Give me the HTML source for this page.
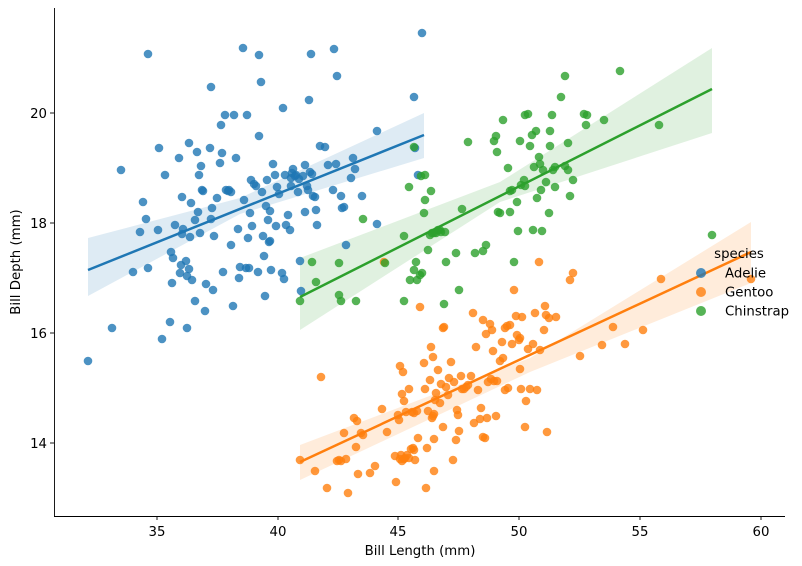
<!DOCTYPE html>
<html><head><meta charset="utf-8"><style>
html,body{margin:0;padding:0;background:#fff;width:802px;height:566px;overflow:hidden}
svg text{font-family:"DejaVu Sans","Liberation Sans",sans-serif;fill:#000}
</style></head><body>
<svg id="s" width="802" height="566" viewBox="0 0 802 566" xmlns="http://www.w3.org/2000/svg">
<polygon points="88,238 240,198 424,113 424,158 240,214 88,296" fill="#1f77b4" opacity="0.15"/>
<polygon points="300,258 500,182 712,48 712,133 500,202 300,330" fill="#2ca02c" opacity="0.15"/>
<polygon points="300,445 530,358 751,222 751,283 530,372 300,480" fill="#ff7f0e" opacity="0.15"/>
<g id="pts"></g>
<line x1="88" y1="270" x2="424" y2="135" stroke="#1f77b4" stroke-width="2.5"/>
<line x1="300" y1="297" x2="712" y2="89" stroke="#2ca02c" stroke-width="2.5"/>
<line x1="300" y1="462" x2="751" y2="252" stroke="#ff7f0e" stroke-width="2.5"/>
<line x1="54.5" y1="8" x2="54.5" y2="516.5" stroke="#000" stroke-width="0.9"/>
<line x1="54" y1="516.5" x2="785" y2="516.5" stroke="#000" stroke-width="0.9"/>
<g stroke="#000" stroke-width="0.9">
<line x1="157" y1="516" x2="157" y2="520"/><line x1="278" y1="516" x2="278" y2="520"/><line x1="398" y1="516" x2="398" y2="520"/><line x1="519" y1="516" x2="519" y2="520"/><line x1="640" y1="516" x2="640" y2="520"/><line x1="761" y1="516" x2="761" y2="520"/>
<line x1="50" y1="113" x2="54" y2="113"/><line x1="50" y1="223" x2="54" y2="223"/><line x1="50" y1="333" x2="54" y2="333"/><line x1="50" y1="443" x2="54" y2="443"/>
</g>
<g font-size="13.3" text-anchor="middle">
<text x="157" y="536">35</text><text x="278" y="536">40</text><text x="398" y="536">45</text><text x="519" y="536">50</text><text x="640" y="536">55</text><text x="761" y="536">60</text>
</g>
<g font-size="13.3" text-anchor="end">
<text x="47" y="118">20</text><text x="47" y="228">18</text><text x="47" y="338">16</text><text x="47" y="448">14</text>
</g>
<text x="420" y="555" font-size="13.3" text-anchor="middle">Bill Length (mm)</text>
<text transform="translate(20,262) rotate(-90)" font-size="13.3" text-anchor="middle">Bill Depth (mm)</text>
<text x="739" y="258" font-size="13.3" text-anchor="middle">species</text>
<circle cx="701" cy="273" r="5" fill="#1f77b4" opacity="0.8"/><text x="725" y="277.5" font-size="13.3">Adelie</text>
<circle cx="701" cy="292" r="5" fill="#ff7f0e" opacity="0.8"/><text x="725" y="296.5" font-size="13.3">Gentoo</text>
<circle cx="701" cy="311" r="5" fill="#2ca02c" opacity="0.8"/><text x="725" y="315.5" font-size="13.3">Chinstrap</text>
</svg>
<script>
var B=[[88,361],[112,328],[121,170],[133,272],[140,232],[143,202],[146,219],[148,54],[148,268],[158,230],[159,148],[162,339],[165,175],[170,322],[171,252],[172,283],[173,258],[175,225],[179,158],[180,273],[181,265],[182,234],[182,197],[183,229],[186,261],[187,276],[187,328],[189,143],[189,269],[190,237],[191,203],[192,280],[195,301],[195,220],[197,152],[198,212],[199,175],[200,233],[201,166],[202,190],[203,191],[205,311],[206,284],[210,148],[211,87],[211,219],[212,208],[213,290],[214,236],[217,198],[220,163],[221,125],[222,153],[223,272],[225,115],[226,190],[228,191],[229,190],[231,245],[231,192],[233,306],[234,115],[236,158],[238,229],[239,278],[240,267],[243,48],[244,200],[246,268],[247,115],[248,238],[249,268],[250,213],[251,180],[252,226],[254,184],[256,186],[258,272],[259,55],[259,136],[261,82],[262,192],[263,236],[264,256],[265,296],[266,206],[267,180],[268,220],[269,242],[270,241],[270,211],[271,270],[273,164],[275,175],[276,226],[277,187],[279,194],[282,273],[283,108],[284,279],[285,175],[286,225],[288,215],[290,230],[291,186],[291,178],[292,173],[293,169],[295,176],[296,175],[298,192],[299,179],[300,261],[301,291],[303,176],[305,165],[305,212],[307,186],[308,190],[309,100],[310,172],[311,54],[312,174],[313,196],[315,197],[316,210],[317,225],[320,146],[325,147],[328,165],[333,190],[334,49],[336,164],[337,76],[341,196],[342,208],[344,207],[346,245],[351,178],[353,158],[355,169],[362,196],[377,224],[377,131],[414,97],[415,148],[418,175],[422,33]];
var O=[[300,460],[315,471],[321,377],[327,488],[337,461],[339,460],[341,461],[344,433],[346,459],[348,493],[354,418],[356,447],[357,421],[358,474],[361,433],[363,435],[370,473],[375,466],[382,409],[384,262],[387,432],[395,456],[396,482],[400,366],[398,415],[399,420],[400,459],[401,455],[402,461],[402,394],[403,372],[404,401],[404,459],[405,458],[407,455],[406,412],[409,458],[409,389],[411,449],[412,412],[413,448],[414,450],[414,413],[415,460],[417,411],[418,438],[420,307],[424,363],[425,389],[426,488],[427,448],[428,411],[430,380],[431,347],[432,418],[433,357],[433,416],[434,439],[434,471],[434,414],[435,400],[436,393],[438,370],[440,403],[441,384],[443,328],[443,427],[444,327],[446,387],[448,395],[449,378],[451,362],[453,460],[454,382],[456,440],[457,410],[458,415],[459,431],[461,376],[462,389],[464,389],[466,387],[468,385],[471,376],[473,313],[474,423],[476,347],[478,390],[480,419],[481,408],[483,320],[483,437],[485,438],[486,334],[487,418],[488,382],[490,324],[491,379],[492,330],[493,351],[494,381],[496,416],[497,381],[500,361],[502,342],[503,358],[505,328],[505,390],[507,326],[508,388],[510,325],[512,344],[514,290],[516,316],[517,335],[519,340],[520,338],[520,369],[521,389],[522,317],[525,427],[526,401],[528,349],[530,389],[533,344],[535,313],[537,390],[539,262],[540,350],[544,330],[545,306],[546,315],[547,432],[549,318],[556,317],[570,280],[573,273],[580,356],[602,345],[625,344],[643,330],[661,279],[751,279],[613,327]];
var G=[[300,301],[312,262],[316,282],[339,263],[339,295],[341,301],[356,301],[363,219],[385,263],[404,236],[404,301],[409,187],[414,147],[410,280],[414,270],[416,262],[417,280],[420,275],[421,176],[422,273],[424,213],[425,175],[425,200],[428,250],[430,235],[431,191],[432,233],[434,233],[436,233],[438,230],[440,230],[441,232],[444,304],[445,232],[446,262],[456,253],[459,290],[462,209],[468,142],[475,253],[483,251],[486,245],[494,141],[496,136],[497,152],[498,212],[500,213],[503,120],[508,168],[510,212],[510,191],[512,190],[514,262],[517,202],[518,231],[520,141],[521,185],[524,180],[525,186],[525,115],[528,114],[530,146],[532,135],[533,230],[534,167],[536,131],[537,198],[539,157],[540,164],[541,190],[542,231],[543,170],[546,182],[549,213],[550,146],[550,131],[552,115],[553,170],[555,167],[555,187],[561,97],[565,166],[568,170],[570,196],[573,180],[568,143],[584,114],[586,125],[587,115],[604,120],[620,71],[659,125],[712,235],[565,76]];
var g=document.getElementById('pts'),h='';
function add(a,c){a.forEach(function(p){h+='<circle cx="'+p[0]+'" cy="'+p[1]+'" r="4.3" fill="'+c+'" fill-opacity="0.8"/>';});}
add(B,'#1f77b4');add(O,'#ff7f0e');add(G,'#2ca02c');
g.innerHTML=h;
</script>
</body></html>
